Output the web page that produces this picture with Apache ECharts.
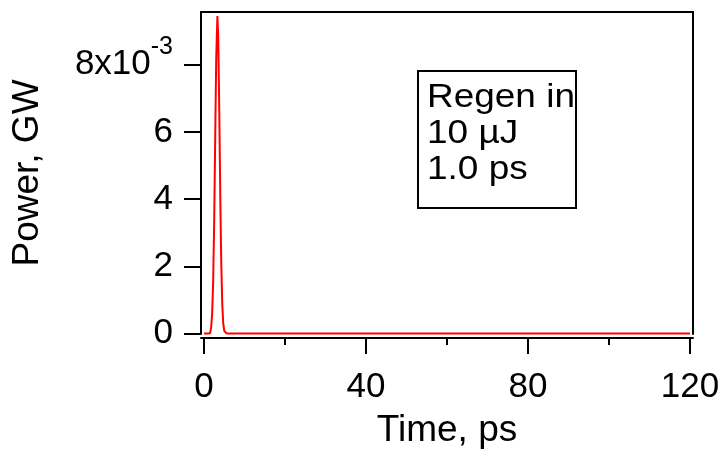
<!DOCTYPE html>
<html>
<head>
<meta charset="utf-8">
<script src="https://cdn.jsdelivr.net/npm/echarts@6/dist/echarts.min.js"></script>
<style>html,body{margin:0;padding:0;background:#fff;}#c{width:726px;height:454px;}</style>
</head>
<body>
<div id="c"></div>
<script>
// Time axis (ps) and pulse power (GW)
const timePs = [0, 1, 1.5, 1.75, 2, 2.25, 2.5, 2.75, 3, 3.3, 3.5, 3.75, 4, 4.25, 4.5, 4.75, 5, 5.5, 6, 10, 20, 40, 60, 80, 100, 120];
const powerGW = [0, 0, 0.00001, 0.00018, 0.00058, 0.00153, 0.00328, 0.00573, 0.00815, 0.00945, 0.00885, 0.00676, 0.0042, 0.00213, 0.00087, 0.00029, 0.00008, 0.00001, 0, 0, 0, 0, 0, 0, 0, 0];
const xMajorTicks = [0, 40, 80, 120];
const xMinorTicks = [20, 60, 100];
const yTicks = [0, 0.002, 0.004, 0.006, 0.008];
const yTickLabels = ['0', '2', '4', '6', '8x10'];
const yTopExponent = '-3';
const boxText = ['Regen in', '10 µJ', '1.0 ps'];

const FF = '"Liberation Sans", Arial, sans-serif';
const chart = echarts.init(document.getElementById('c'));
const X_MIN = -0.75, X_MAX = 120.75, Y_MIN = -0.000015, Y_MAX = 0.00957;

chart.setOption({
  animation: false,
  backgroundColor: '#fff',
  graphic: [
    {
      type: 'rect', silent: true, z: 10,
      shape: {x: 418, y: 71, width: 158, height: 137},
      style: {fill: 'none', stroke: '#000', lineWidth: 2}
    },
    {
      type: 'text', silent: true, z: 11,
      x: 427, y: 80, scaleX: 1.12,
      style: {
        text: boxText.join('\n'),
        font: '33px "Liberation Sans", Arial, sans-serif',
        lineHeight: 36, fill: '#000', verticalAlign: 'top', align: 'left'
      }
    }
  ],
  grid: {left: 201, right: 33, top: 12, bottom: 118, containLabel: false},
  xAxis: [
    {
      type: 'value', position: 'bottom', offset: 4, min: X_MIN, max: X_MAX,
      axisLine: {show: true, onZero: false, lineStyle: {color: '#000', width: 2}},
      axisTick: {show: true, inside: false, length: 16, lineStyle: {color: '#000', width: 2}, customValues: xMajorTicks},
      axisLabel: {show: true, margin: 32, fontSize: 35, color: '#000', fontFamily: FF, customValues: xMajorTicks},
      splitLine: {show: false},
      name: 'Time, ps', nameLocation: 'middle', nameGap: 74,
      nameTextStyle: {fontSize: 37, color: '#000', fontFamily: FF}
    },
    {
      type: 'value', position: 'bottom', offset: 4, min: X_MIN, max: X_MAX,
      axisLine: {show: false, onZero: false},
      axisTick: {show: true, inside: false, length: 7, lineStyle: {color: '#000', width: 2}, customValues: xMinorTicks},
      axisLabel: {show: false}, splitLine: {show: false}
    },
    {
      type: 'value', position: 'top', min: X_MIN, max: X_MAX,
      axisLine: {show: true, onZero: false, lineStyle: {color: '#000', width: 2}},
      axisTick: {show: false}, axisLabel: {show: false}, splitLine: {show: false}
    }
  ],
  yAxis: [
    {
      type: 'value', position: 'left', min: Y_MIN, max: Y_MAX,
      axisLine: {show: true, onZero: false, lineStyle: {color: '#000', width: 2}},
      axisTick: {show: true, inside: false, length: 17, lineStyle: {color: '#000', width: 2}, customValues: yTicks},
      axisLabel: {
        show: true, margin: 28, color: '#000', fontFamily: FF, customValues: yTicks,
        formatter: function (v) {
          let i = yTicks.findIndex(t => Math.abs(t - v) < 1e-9);
          if (i < 0) return '';
          if (i === yTicks.length - 1) return '{m|' + yTickLabels[i] + '}{s|' + yTopExponent + '}';
          return '{m|' + yTickLabels[i] + '}';
        },
        rich: {
          m: {fontSize: 35, lineHeight: 60, verticalAlign: 'middle', color: '#000', fontFamily: FF},
          s: {fontSize: 25, lineHeight: 25, verticalAlign: 'top', color: '#000', fontFamily: FF}
        }
      },
      splitLine: {show: false},
      name: 'Power, GW', nameLocation: 'middle', nameGap: 155,
      nameTextStyle: {fontSize: 37, color: '#000', fontFamily: FF}
    },
    {
      type: 'value', position: 'right', min: Y_MIN, max: Y_MAX,
      axisLine: {show: true, onZero: false, lineStyle: {color: '#000', width: 2}},
      axisTick: {show: false}, axisLabel: {show: false}, splitLine: {show: false}
    }
  ],
  series: [{
    type: 'line',
    xAxisIndex: 0, yAxisIndex: 0,
    data: timePs.map((t, i) => [t, powerGW[i]]),
    showSymbol: false, symbol: 'none',
    lineStyle: {color: '#ff0000', width: 2},
    itemStyle: {color: '#ff0000'},
    silent: true
  }]
});
</script>
</body>
</html>
